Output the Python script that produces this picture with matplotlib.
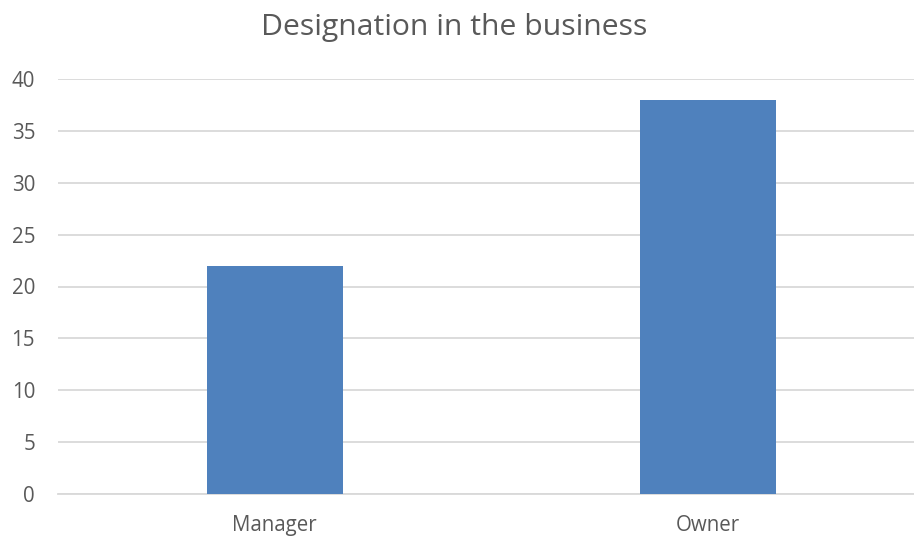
import matplotlib
matplotlib.use("Agg")
import matplotlib.pyplot as plt

categories = ["Manager", "Owner"]
counts = [22, 38]
y_ticks = [0, 5, 10, 15, 20, 25, 30, 35, 40]
title = "Designation in the business"

BAR = "#4F81BD"
GRID = "#D9D9D9"
TEXT = "#595959"

plt.rcParams["font.family"] = ["Open Sans", "DejaVu Sans"]

W, H = 914, 539
fig = plt.figure(figsize=(W / 100, H / 100), dpi=100)
left, right = 58, 925
top, bottom = 79, 494
ax = fig.add_axes([left / W, 1 - bottom / H, (right - left) / W, (bottom - top) / H])

x = list(range(len(categories)))
ax.bar(x, counts, width=0.313, color=BAR, zorder=3)
ax.set_xlim(-0.5, len(categories) - 0.5)
ax.set_ylim(0, 40)
ax.set_yticks(y_ticks)
ax.set_yticklabels([str(v) for v in y_ticks])
ax.set_xticks(x)
ax.set_xticklabels(categories)
ax.yaxis.grid(True, color=GRID, linewidth=1.3, zorder=0)
ax.set_axisbelow(True)
for s in ["top", "right", "left"]:
    ax.spines[s].set_visible(False)
ax.spines["bottom"].set_color(GRID)
ax.spines["bottom"].set_linewidth(1.3)
ax.tick_params(axis="both", length=0, colors=TEXT, labelsize=14.8)
ax.tick_params(axis="y", pad=16.5)
ax.tick_params(axis="x", pad=15)
for lbl in ax.get_yticklabels():
    lbl.set_horizontalalignment("right")

fig.text(454 / W, 1 - 27 / H, title, ha="center", va="center", fontsize=21.7, color=TEXT)

fig.savefig("out.png", dpi=100)
